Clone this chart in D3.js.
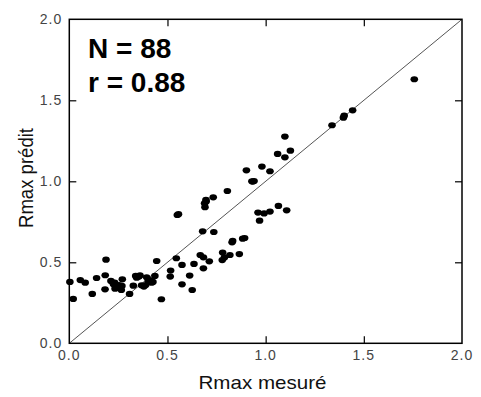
<!DOCTYPE html>
<html><head><meta charset="utf-8">
<script src="https://cdn.jsdelivr.net/npm/d3@7"></script>
<style>body{margin:0;background:#fff}</style>
</head><body><svg id="c" width="481" height="397"></svg>
<script>
const xVals = [1.757,1.443,1.400,1.396,1.338,1.098,1.126,1.061,1.098,0.902,
 1.022,0.981,0.930,0.941,0.805,0.733,0.696,0.689,0.691,0.550,
 0.556,1.065,1.107,0.961,0.992,1.022,0.969,0.679,0.736,0.829,
 0.832,0.893,0.883,0.781,0.779,0.818,0.866,0.790,0.667,0.683,
 0.713,0.683,0.635,0.545,0.574,0.516,0.514,0.574,0.613,0.626,
 0.445,0.469,0.187,0.183,0.139,0.056,0.081,0.003,0.020,0.117,
 0.182,0.212,0.231,0.238,0.253,0.270,0.268,0.233,0.265,0.307,
 0.326,0.338,0.360,0.343,0.368,0.389,0.402,0.419,0.394,0.436,
 0.426,0.250,0.225,0.380,0.410,0.355,0.697,0.935];
const yVals = [1.630,1.438,1.405,1.393,1.346,1.276,1.189,1.169,1.148,1.068,
 1.062,1.091,1.000,1.002,0.940,0.901,0.885,0.864,0.840,0.792,
 0.797,0.848,0.821,0.807,0.802,0.813,0.757,0.691,0.687,0.623,
 0.632,0.650,0.646,0.560,0.514,0.545,0.551,0.530,0.545,0.531,
 0.506,0.463,0.490,0.525,0.484,0.449,0.412,0.364,0.418,0.329,
 0.508,0.272,0.516,0.420,0.403,0.390,0.374,0.379,0.274,0.305,
 0.333,0.385,0.374,0.350,0.360,0.395,0.354,0.337,0.329,0.305,
 0.356,0.416,0.420,0.405,0.358,0.360,0.385,0.374,0.407,0.416,
 0.379,0.345,0.365,0.350,0.390,0.412,0.876,0.998];
const tickValues = [0, 0.5, 1.0, 1.5, 2.0];
const tickLabels = ["0.0", "0.5", "1.0", "1.5", "2.0"];
const xTitle = "Rmax mesuré";
const yTitle = "Rmax prédit";
const statLines = ["N = 88", "r = 0.88"];

const svg = d3.select("#c");
const L = 69.3, R = 462, T = 19.3, B = 343.3;
const x = d3.scaleLinear().domain([0, 2]).range([L, R]);
const y = d3.scaleLinear().domain([0, 2]).range([B, T]);
const tickFont = "Liberation Sans, Arial, sans-serif";

// diagonal 1:1 line
svg.append("line").attr("x1", x(0)).attr("y1", y(0)).attr("x2", x(2)).attr("y2", y(2))
  .attr("stroke", "#555").attr("stroke-width", 1);

// axes with inward ticks (no labels), on all four sides
const inner = tickValues.slice(1, -1);
const ax = (gen, tx, ty) => {
  const g = svg.append("g").attr("transform", `translate(${tx},${ty})`)
    .call(gen.tickValues(inner).tickSize(-7).tickFormat(""));
  g.select(".domain").remove();
  g.selectAll(".tick line").attr("stroke", "#000").attr("stroke-width", 1.2);
};
ax(d3.axisBottom(x), 0, B);
ax(d3.axisTop(x), 0, T);
ax(d3.axisLeft(y), L, 0);
ax(d3.axisRight(y), R, 0);

// frame
svg.append("rect").attr("x", L).attr("y", T).attr("width", R - L).attr("height", B - T)
  .attr("fill", "none").attr("stroke", "#000").attr("stroke-width", 1.5);

// tick labels
svg.append("g").selectAll("text").data(tickValues).join("text")
  .attr("x", d => x(d)).attr("y", B + 17)
  .attr("text-anchor", "middle").attr("font-family", tickFont).attr("font-size", 14)
  .attr("letter-spacing", 1).attr("fill", "#444")
  .text((d, i) => tickLabels[i]);
svg.append("g").selectAll("text").data(tickValues).join("text")
  .attr("x", L - 7).attr("y", d => y(d) + 5)
  .attr("text-anchor", "end").attr("font-family", tickFont).attr("font-size", 14)
  .attr("letter-spacing", 1).attr("fill", "#444")
  .text((d, i) => tickLabels[i]);

// axis titles
svg.append("text").attr("x", 262.5).attr("y", 388.5).attr("text-anchor", "middle")
  .attr("font-family", tickFont).attr("font-size", 19).attr("fill", "#111")
  .attr("textLength", 128).attr("lengthAdjust", "spacingAndGlyphs").text(xTitle);
svg.append("text").attr("transform", "translate(33,178) rotate(-90)").attr("text-anchor", "middle")
  .attr("font-family", tickFont).attr("font-size", 20).attr("fill", "#111")
  .attr("textLength", 100).attr("lengthAdjust", "spacingAndGlyphs").text(yTitle);

// stats
svg.append("g").selectAll("text").data(statLines).join("text")
  .attr("x", 88).attr("y", (d, i) => 58.3 + i * 33.4)
  .attr("font-family", tickFont).attr("font-weight", "bold").attr("font-size", 28)
  .attr("fill", "#000").text(d => d);

// points
svg.append("g").selectAll("ellipse").data(xVals).join("ellipse")
  .attr("cx", d => x(d)).attr("cy", (d, i) => y(yVals[i]))
  .attr("rx", 3.8).attr("ry", 3.1).attr("fill", "#000");
</script></body></html>
